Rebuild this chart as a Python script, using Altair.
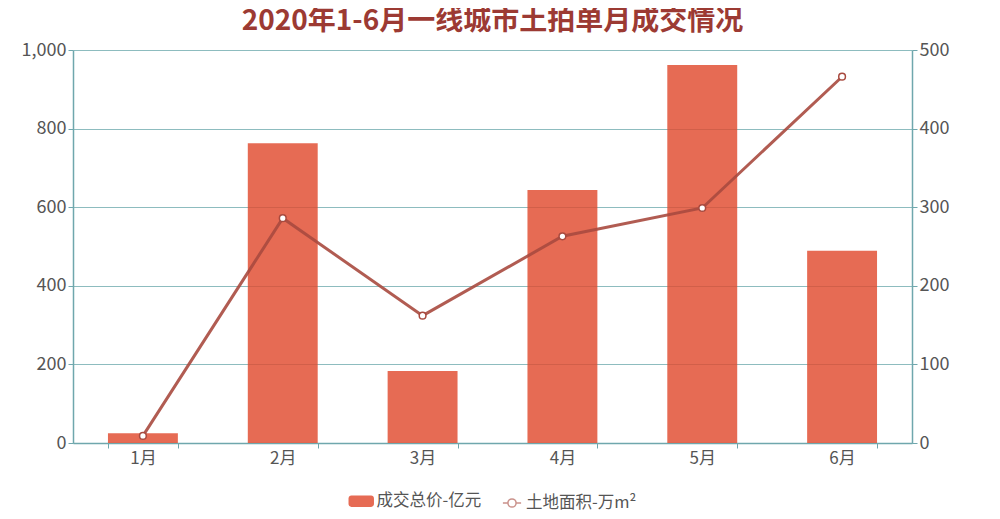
import altair as alt
import pandas as pd

months = ["1月", "2月", "3月", "4月", "5月", "6月"]
price = [25, 763, 183, 644, 962, 489]
area = [9, 286, 162, 263, 299, 466]
price_name = "成交总价-亿元"
area_name = "土地面积-万m²"

df = pd.DataFrame({"month": months, "price": price, "area": area,
                   "s1": price_name, "s2": area_name})

FONT = "Noto Sans CJK SC"
TEAL = "#6fa7ad"
GRID = "#8dbcbf"
LABEL = "#555555"

x = alt.X("month:N", sort=months, title=None,
          scale=alt.Scale(paddingInner=0.5, paddingOuter=0.25),
          axis=alt.Axis(labelAngle=0, tickBand="extent", domainColor=TEAL,
                        tickColor=TEAL, labelColor=LABEL, labelFontSize=17,
                        labelFont=FONT, tickSize=5, grid=False, labelPadding=2,
                        domainWidth=1.5))

rect_path = ("M-1.4,-0.8 H1.4 A0.4,0.4 0 0 1 1.8,-0.4 V0.4 A0.4,0.4 0 0 1 1.4,0.8 "
             "H-1.4 A0.4,0.4 0 0 1 -1.8,0.4 V-0.4 A0.4,0.4 0 0 1 -1.4,-0.8 Z")
line_path = ("M-1,0 H-0.45 M0.45,0 H1 M0.45,0 A0.45,0.45 0 1 1 -0.45,0 "
             "A0.45,0.45 0 1 1 0.45,0")

base = alt.Chart(df)

bars = base.mark_bar(opacity=0.82).encode(
    x=x,
    y=alt.Y("price:Q", title=None, scale=alt.Scale(domain=[0, 1000]),
            axis=alt.Axis(values=[0, 200, 400, 600, 800, 1000], format=",d",
                          grid=True, gridColor=GRID, gridWidth=1,
                          domainColor=TEAL, tickColor=TEAL, tickSize=5,
                          labelColor=LABEL, labelFontSize=18, labelFont=FONT,
                          labelPadding=2, domainWidth=1.5)),
    color=alt.Color("s1:N", scale=alt.Scale(range=["#e04a2e"]),
                    legend=alt.Legend(title=None, orient="none", legendX=280,
                                      legendY=443, direction="horizontal",
                                      symbolType=rect_path, symbolSize=200,
                                      labelOffset=7, labelLimit=300,
                                      labelFont=FONT, labelFontSize=16.5,
                                      labelColor=LABEL, symbolStrokeWidth=0)),
)

line = base.mark_line(
    strokeWidth=3, opacity=0.9,
    point=alt.OverlayMarkDef(filled=True, fill="white", size=45,
                             strokeWidth=1.5, opacity=1),
).encode(
    x=x,
    y=alt.Y("area:Q", title=None, scale=alt.Scale(domain=[0, 500]),
            axis=alt.Axis(orient="right", values=[0, 100, 200, 300, 400, 500],
                          grid=False, domainColor=TEAL, tickColor=TEAL, tickSize=5,
                          labelColor=LABEL, labelFontSize=18, labelFont=FONT,
                          labelPadding=2, domainWidth=1.5)),
    stroke=alt.Stroke("s2:N", scale=alt.Scale(range=["#a84a3f"]),
                      legend=alt.Legend(title=None, orient="none", legendX=429,
                                        legendY=443, direction="horizontal",
                                        symbolType=line_path, symbolSize=330,
                                        symbolStrokeWidth=1.5, symbolOpacity=0.6,
                                        symbolFillColor="white", labelLimit=300,
                                        labelFont=FONT, labelFontSize=16.5,
                                        labelColor=LABEL)),
)

chart = alt.layer(bars, line).resolve_scale(
    y="independent"
).properties(
    width=839, height=393,
    autosize=alt.AutoSizeParams(type="none"),
    padding={"left": 65, "top": 42, "right": 80, "bottom": 68},
    title=alt.TitleParams("2020年1-6月一线城市土拍单月成交情况", font=FONT,
                          fontSize=28, fontWeight="bold", color="#9c3a33",
                          anchor="middle", offset=5),
).configure_view(stroke=None)

chart.save("out.html", embed_options={"renderer": "svg", "actions": False})
